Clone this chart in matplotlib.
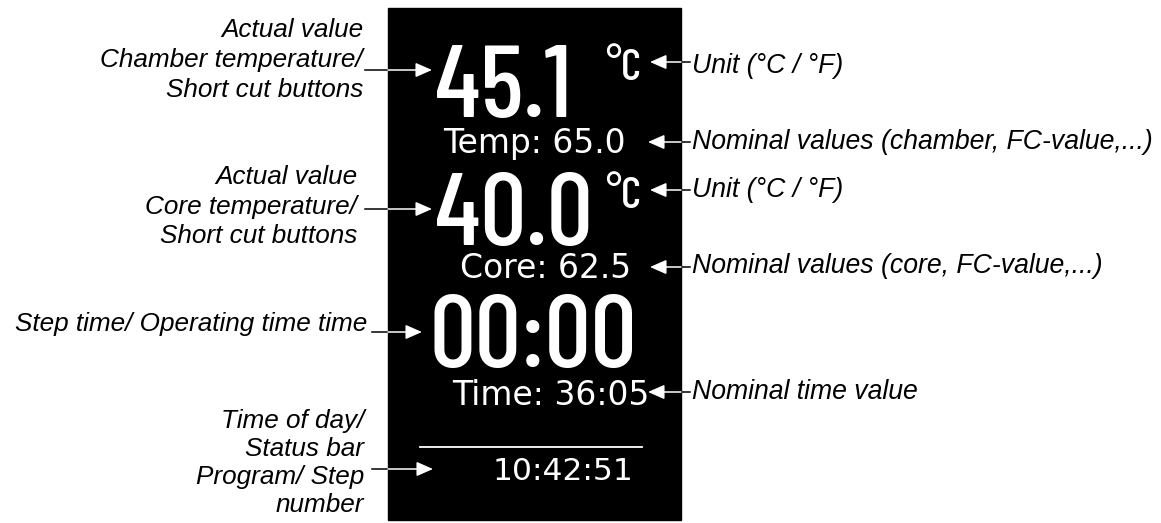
import matplotlib
matplotlib.use("Agg")
import matplotlib.pyplot as plt
from matplotlib.patches import Rectangle, FancyArrowPatch

# display content
big_values = ["45.1", "40.0", "00:00"]
unit_labels = ["°C", "°C"]
nominal_values = ["Temp: 65.0", "Core: 62.5", "Time: 36:05"]
clock_value = "10:42:51"

# annotation texts
left_labels = [
    ["Actual value", "Chamber temperature/", "Short cut buttons"],
    ["Actual value", "Core temperature/", "Short cut buttons"],
    ["Step time/ Operating time time"],
    ["Time of day/", "Status bar", "Program/ Step", "number"],
]
right_labels = [
    "Unit (°C / °F)",
    "Nominal values (chamber, FC-value,...)",
    "Unit (°C / °F)",
    "Nominal values (core, FC-value,...)",
    "Nominal time value",
]

# layout (pixel coords, y down)
W, H = 1161, 523
panel = (388, 8, 681, 520)
big_pos = [(435, 117), (435, 245), (429, 367)]
unit_pos = [(605, 80), (605, 208)]
nominal_pos = [(443, 153), (460, 278), (452, 405)]
clock_pos = (493, 480)
status_line = (420, 642, 447)

left_pos = [(363, [37, 67, 97]), (357, [184, 214, 243]), (367, [331]),
            (364, [428, 456, 484, 512])]
left_arrows = [(365, 432, 70), (365, 432, 209), (372, 422, 332), (372, 433, 469)]
right_y = [73, 149, 197, 273, 399]
right_arrows = [(690, 650, 62), (690, 648, 142), (690, 650, 190),
                (690, 650, 267), (690, 648, 392)]

narrow = ["Barlow Condensed", "DejaVu Sans"]
label_font = dict(family=["Liberation Sans", "DejaVu Sans"], style="italic",
                  color="black")

fig = plt.figure(figsize=(W / 100, H / 100), dpi=100)
ax = fig.add_axes([0, 0, 1, 1])
ax.set_xlim(0, W)
ax.set_ylim(H, 0)
ax.axis("off")

x0, y0, x1, y1 = panel
ax.add_patch(Rectangle((x0, y0), x1 - x0, y1 - y0, color="black", zorder=1))

for val, (x, y) in zip(big_values, big_pos):
    ax.text(x, y, val, family=narrow, fontweight="medium", fontsize=74,
            color="white", ha="left", va="baseline", zorder=3)

for val, (x, y) in zip(unit_labels, unit_pos):
    ax.text(x, y, val, family=narrow, fontweight="medium", fontsize=32,
            color="white", ha="left", va="baseline", zorder=3)

for val, (x, y) in zip(nominal_values, nominal_pos):
    ax.text(x, y, val, family="DejaVu Sans", fontsize=23.8,
            color="white", ha="left", va="baseline", zorder=3)

ax.text(clock_pos[0], clock_pos[1], clock_value, family="DejaVu Sans",
        fontsize=22.6, color="white", ha="left", va="baseline", zorder=3)

ax.plot([status_line[0], status_line[1]], [status_line[2]] * 2,
        color="white", lw=1.3, zorder=3)

for lines, (xr, ys) in zip(left_labels, left_pos):
    for line, y in zip(lines, ys):
        ax.text(xr, y, line, ha="right", va="baseline", fontsize=18.8,
                **label_font)

for line, y in zip(right_labels, right_y):
    ax.text(692, y, line, ha="left", va="baseline", fontsize=19.2,
            **label_font)


def arrow(xa, xb, y):
    # black part on the white page, white part on the display
    edge = x0 if xa < x0 else x1
    ax.plot([xa, edge], [y, y], color="black", lw=1.1, zorder=2)
    ax.add_patch(FancyArrowPatch((edge, y), (xb, y),
                                 arrowstyle="-|>,head_length=0.5,head_width=0.22",
                                 mutation_scale=20, color="white", lw=1.1,
                                 shrinkA=0, shrinkB=0, zorder=3))


for xa, xb, y in left_arrows + right_arrows:
    arrow(xa, xb, y)

fig.savefig("out.png", dpi=100, facecolor="white")
